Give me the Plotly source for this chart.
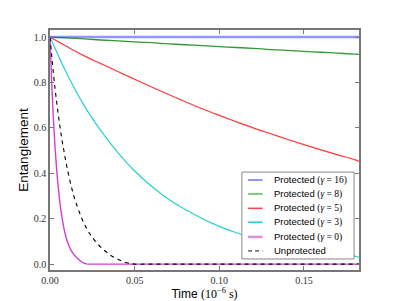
import plotly.graph_objects as go

# Time grids (10^-6 s)
t_slow = [0.0, 0.01, 0.02, 0.03, 0.04, 0.05, 0.06, 0.07, 0.08, 0.09, 0.10,
          0.11, 0.12, 0.13, 0.14, 0.15, 0.16, 0.17, 0.18, 0.1825]
t_fast = [0.0, 0.001, 0.002, 0.003, 0.004, 0.005, 0.006, 0.007, 0.008, 0.009,
          0.010, 0.012, 0.014, 0.016, 0.018, 0.020, 0.022, 0.024, 0.028, 0.032,
          0.036, 0.040, 0.044, 0.048, 0.050, 0.06, 0.08, 0.10, 0.12, 0.14,
          0.16, 0.18, 0.1825]

# Entanglement values
prot_16 = [1.0] * len(t_slow)
prot_8 = [1.0, 0.996, 0.992, 0.987, 0.983, 0.979, 0.975, 0.970, 0.966, 0.962,
          0.958, 0.954, 0.950, 0.945, 0.941, 0.937, 0.933, 0.929, 0.925, 0.924]
prot_5 = [1.0, 0.958, 0.918, 0.883, 0.848, 0.814, 0.780, 0.747, 0.715, 0.684,
          0.655, 0.627, 0.600, 0.575, 0.550, 0.526, 0.503, 0.481, 0.460, 0.452]
prot_3 = [1.0, 0.838, 0.700, 0.588, 0.492, 0.410, 0.343, 0.286, 0.240, 0.200,
          0.166, 0.138, 0.115, 0.096, 0.080, 0.066, 0.055, 0.045, 0.035, 0.030]
prot_0 = [1.0, 0.800, 0.640, 0.510, 0.410, 0.330, 0.262, 0.210, 0.166, 0.132,
          0.105, 0.067, 0.043, 0.027, 0.014, 0.004, 0.0, 0.0, 0.0, 0.0,
          0.0, 0.0, 0.0, 0.0, 0.0, 0.0, 0.0, 0.0, 0.0, 0.0,
          0.0, 0.0, 0.0]
unprot = [1.0, 0.918, 0.842, 0.772, 0.710, 0.652, 0.600, 0.550, 0.508, 0.466,
          0.428, 0.360, 0.302, 0.256, 0.216, 0.180, 0.152, 0.128, 0.090, 0.061,
          0.038, 0.021, 0.009, 0.002, 0.0, 0.0, 0.0, 0.0, 0.0, 0.0,
          0.0, 0.0, 0.0]

series_names = ["16", "8", "5", "3", "0", None]

x_ticks = [0.0, 0.05, 0.10, 0.15]
x_ticklabels = ["0.00", "0.05", "0.10", "0.15"]
y_ticks = [0.0, 0.2, 0.4, 0.6, 0.8, 1.0]
y_ticklabels = ["0.0", "0.2", "0.4", "0.6", "0.8", "1.0"]

SERIF = "Liberation Serif, DejaVu Serif, serif"
SANS = "Liberation Sans, Arial, sans-serif"

styles = [
    dict(color="rgba(60,60,255,0.55)", width=2.4),
    dict(color="rgba(0,128,0,0.8)", width=1.3),
    dict(color="rgba(255,20,20,0.85)", width=1.2),
    dict(color="rgba(0,200,200,0.85)", width=1.2),
    dict(color="rgba(200,30,200,0.85)", width=1.4),
    dict(color="black", width=1.1, dash="4px,4px"),
]
legend_styles = [
    dict(color="rgba(60,60,255,0.55)", width=2),
    dict(color="rgba(0,140,0,0.5)", width=2),
    dict(color="rgba(255,20,20,0.8)", width=1.5),
    dict(color="rgba(0,200,200,0.85)", width=1.5),
    dict(color="rgba(200,30,200,0.5)", width=2.5),
    dict(color="#444444", width=1.3, dash="4px,3px"),
]


def lab(g):
    if g is None:
        return "Unprotected"
    return ("Protected <span style=\"font-family:'Liberation Serif'\">(<i>γ</i> = %s)</span>" % g)


fig = go.Figure()
xs = [t_slow, t_slow, t_slow, t_slow, t_fast, t_fast]
ys = [prot_16, prot_8, prot_5, prot_3, prot_0, unprot]
for x, y, st, g in zip(xs, ys, styles, series_names):
    fig.add_trace(go.Scatter(x=x, y=y, mode="lines", name=lab(g), line=st,
                             line_shape="spline" if g != "16" else "linear",
                             showlegend=False))

# Compact legend box (matplotlib style)
fig.add_shape(type="rect", xref="paper", yref="paper", x0=0.621, x1=0.984, y0=0.046, y1=0.408,
              line=dict(color="#888888", width=1), fillcolor="white", layer="above")
row_y = [0.375, 0.317, 0.257, 0.199, 0.138, 0.080]
for ry, st, g in zip(row_y, legend_styles, series_names):
    fig.add_shape(type="line", xref="paper", yref="paper", x0=0.641, x1=0.688, y0=ry, y1=ry,
                  line=st, layer="above")
    fig.add_annotation(xref="paper", yref="paper", x=0.718, y=ry, xanchor="left", yanchor="middle",
                       text=lab(g), showarrow=False, font=dict(family=SANS, size=9.5, color="black"))

axis_common = dict(showline=True, linecolor="#777777", linewidth=1.5, mirror="ticks",
                   ticks="inside", ticklen=4, tickcolor="#777777", showgrid=False,
                   zeroline=False, automargin=False,
                   tickfont=dict(family=SERIF, size=10, color="#333333"))

# The page places the figure 8 px from the top-left corner of the window.
fig.update_layout(
    width=391, height=293,
    margin=dict(l=42, r=40, t=22, b=31),
    paper_bgcolor="white", plot_bgcolor="white",
    font=dict(family=SANS, size=10, color="black"),
    xaxis=dict(range=[0, 0.1825], tickvals=x_ticks, ticktext=x_ticklabels,
               title=dict(text="Time <span style=\"font-family:'Liberation Serif'\">(10<sup>−6</sup> s)</span>",
                          font=dict(family=SANS, size=12), standoff=2),
               **axis_common),
    yaxis=dict(range=[-0.026, 1.031], tickvals=y_ticks, ticktext=y_ticklabels,
               title=dict(text="Entanglement", font=dict(family=SANS, size=13.5), standoff=2),
               **axis_common),
    showlegend=False,
)

fig.write_html("out.html")
